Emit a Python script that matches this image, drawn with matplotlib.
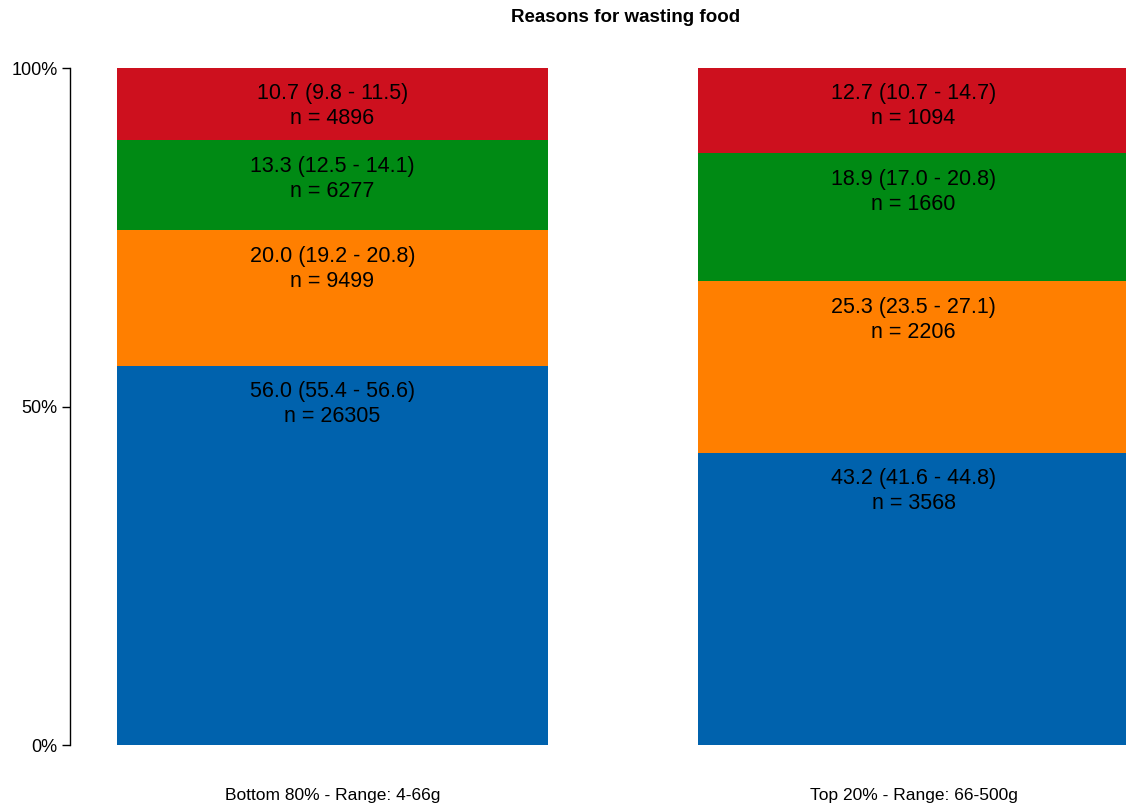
import numpy as np
import matplotlib.pyplot as plt

plt.rcParams['font.family'] = ['Liberation Sans', 'DejaVu Sans']

groups = ["Bottom 80% - Range: 4-66g", "Top 20% - Range: 66-500g"]

# bottom to top: blue, orange, green, red
blue_pct = [56.0, 43.2]
orange_pct = [20.0, 25.3]
green_pct = [13.3, 18.9]
red_pct = [10.7, 12.7]

blue_lbl = ["56.0 (55.4 - 56.6)\nn = 26305", "43.2 (41.6 - 44.8)\nn = 3568"]
orange_lbl = ["20.0 (19.2 - 20.8)\nn = 9499", "25.3 (23.5 - 27.1)\nn = 2206"]
green_lbl = ["13.3 (12.5 - 14.1)\nn = 6277", "18.9 (17.0 - 20.8)\nn = 1660"]
red_lbl = ["10.7 (9.8 - 11.5)\nn = 4896", "12.7 (10.7 - 14.7)\nn = 1094"]

layers = [
   (blue_pct, blue_lbl, "#0062ad"),
   (orange_pct, orange_lbl, "#ff7f00"),
   (green_pct, green_lbl, "#008a14"),
   (red_pct, red_lbl, "#cd101e"),
]

fig = plt.figure(figsize=(11.26, 8.08), dpi=100)
ax = fig.add_axes([70 / 1126, 63 / 808, 1 - 70 / 1126, 677 / 808])

x = np.arange(len(groups))
width = 0.742
bottom = np.zeros(len(groups))
for vals, labels, color in layers:
   vals = np.array(vals)
   ax.bar(x, vals, width, bottom=bottom, color=color, linewidth=0)
   tops = bottom + vals
   for i in range(len(groups)):
      # label sits just under the top edge of each segment
      ax.annotate(labels[i], (x[i], min(tops[i], 100)), xytext=(0, -11),
                  textcoords="offset points", ha="center", va="top",
                  fontsize=15.5, linespacing=1.25)
   bottom = tops

ax.set_xlim((70 - 332.5) / 581, (1126 - 332.5) / 581)
ax.set_ylim(0, 100)

ax.set_yticks([0, 50, 100])
ax.set_yticklabels(["0%", "50%", "100%"], fontsize=13)
ax.set_xticks(x)
ax.set_xticklabels(groups, fontsize=12.5)
ax.tick_params(axis="x", length=0, pad=31)
ax.tick_params(axis="y", length=6, width=1, pad=3)

for side in ["top", "right", "bottom"]:
   ax.spines[side].set_visible(False)
ax.spines["left"].set_bounds(0, 100)
ax.spines["left"].set_linewidth(1)

fig.text(626 / 1126, 1 - 18 / 808, "Reasons for wasting food", ha="center", va="center",
         fontsize=13.5, fontweight="bold")

fig.savefig("out.png", dpi=100)
